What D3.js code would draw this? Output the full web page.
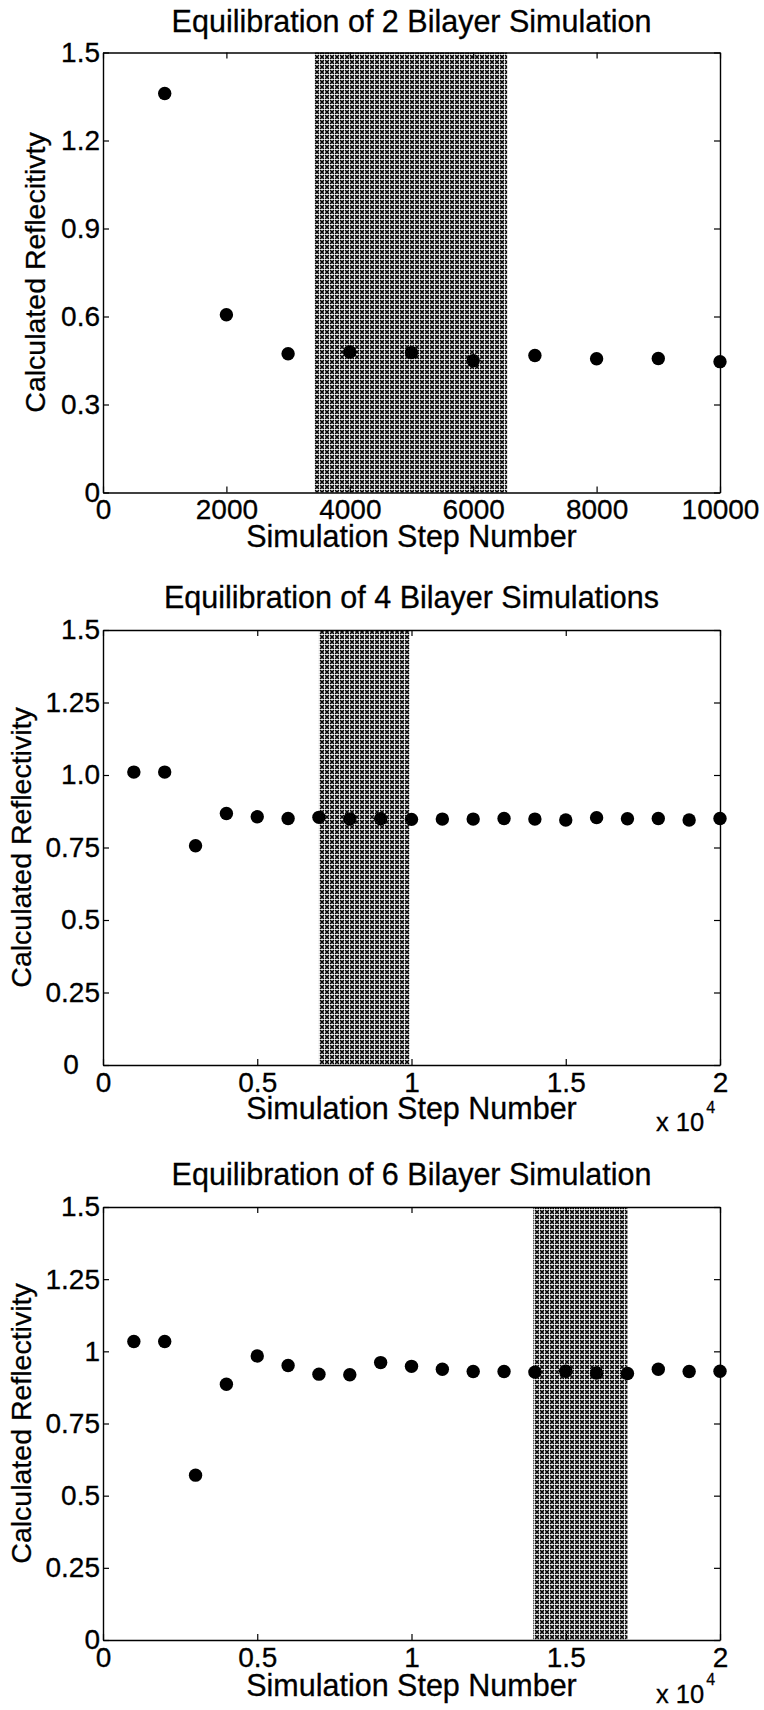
<!DOCTYPE html>
<html>
<head>
<meta charset="utf-8">
<script src="https://cdn.jsdelivr.net/npm/d3@7"></script>
<style>
  body { margin: 0; background: #fff; }
  text { font-family: "Liberation Sans", Arial, Helvetica, sans-serif; fill: #000; stroke: #000; stroke-width: 0.3px; }
</style>
</head>
<body>
<div id="plot"></div>
<script>
// ---- data ----
var titles = ["Equilibration of 2 Bilayer Simulation",
  "Equilibration of 4 Bilayer Simulations",
  "Equilibration of 6 Bilayer Simulation"];
var yTitles = ["Calculated Reflecitivty", "Calculated Reflectivity", "Calculated Reflectivity"];
var xTitle = "Simulation Step Number";

var steps1 = [1000, 2000, 3000, 4000, 5000, 6000, 7000, 8000, 9000, 10000];
var refl1 = [1.36, 0.606, 0.473, 0.479, 0.477, 0.449, 0.467, 0.456, 0.457, 0.446];

var steps2 = [1000, 2000, 3000, 4000, 5000, 6000, 7000, 8000, 9000, 10000,
  11000, 12000, 13000, 14000, 15000, 16000, 17000, 18000, 19000, 20000];
var refl2 = [1.01, 1.01, 0.756, 0.867, 0.856, 0.850, 0.854, 0.848, 0.849, 0.847,
  0.848, 0.848, 0.850, 0.848, 0.845, 0.853, 0.849, 0.850, 0.845, 0.850];

var steps3 = [1000, 2000, 3000, 4000, 5000, 6000, 7000, 8000, 9000, 10000,
  11000, 12000, 13000, 14000, 15000, 16000, 17000, 18000, 19000, 20000];
var refl3 = [1.034, 1.034, 0.571, 0.886, 0.984, 0.951, 0.921, 0.919, 0.961, 0.948,
  0.938, 0.930, 0.930, 0.928, 0.931, 0.925, 0.923, 0.938, 0.930, 0.931];

// equilibrated (shaded) window of each run
var shade1 = [3430, 6550];
var shade2 = [7000, 9950];
var shade3 = [13950, 17000];

var xTicks1 = [0, 2000, 4000, 6000, 8000, 10000];
var xTickLabels1 = ["0", "2000", "4000", "6000", "8000", "10000"];
var xTicks23 = [0, 5000, 10000, 15000, 20000];
var xTickLabels23 = ["0", "0.5", "1", "1.5", "2"];

var yTicks1 = [0, 0.3, 0.6, 0.9, 1.2, 1.5];
var yTickLabels1 = ["0", "0.3", "0.6", "0.9", "1.2", "1.5"];
var yTicks23 = [0, 0.25, 0.5, 0.75, 1, 1.25, 1.5];
var yTickLabels2 = ["0\u2007\u2009", "0.25", "0.5", "0.75", "1.0", "1.25", "1.5"];
var yTickLabels3 = ["0", "0.25", "0.5", "0.75", "1", "1.25", "1.5"];

// ---- page ----
var svgWidth = 764;
var svgHeight = 1710;
var left = 103;
var right = 720;

var svg = d3.select("#plot")
  .append("svg")
  .attr("width", svgWidth)
  .attr("height", svgHeight);

// crosshatch of little x's used for the shaded window
var pat = svg.append("defs").append("pattern")
  .attr("id", "hatch")
  .attr("patternUnits", "userSpaceOnUse")
  .attr("width", 5)
  .attr("height", 5);
pat.append("rect").attr("width", 5).attr("height", 5).attr("fill", "#f2f2f2");
pat.append("rect").attr("width", 4).attr("height", 4).attr("fill", "#8a8a8a");
pat.append("path")
  .attr("d", "M0,0L4,4M4,0L0,4")
  .attr("stroke", "#000")
  .attr("stroke-width", 1.1);

var panels = [
  { title: titles[0], yTitle: yTitles[0], steps: steps1, refl: refl1, shade: shade1,
    xMax: 10000, xTicks: xTicks1, xLabels: xTickLabels1, yTicks: yTicks1, yLabels: yTickLabels1,
    top: 52.5, bottom: 492.5, titleY: 32, xTitleY: 547, yTitleX: 45, expo: null },
  { title: titles[1], yTitle: yTitles[1], steps: steps2, refl: refl2, shade: shade2,
    xMax: 20000, xTicks: xTicks23, xLabels: xTickLabels23, yTicks: yTicks23, yLabels: yTickLabels2,
    top: 630, bottom: 1065, titleY: 608, xTitleY: 1119, yTitleX: 31, expo: 1131 },
  { title: titles[2], yTitle: yTitles[2], steps: steps3, refl: refl3, shade: shade3,
    xMax: 20000, xTicks: xTicks23, xLabels: xTickLabels23, yTicks: yTicks23, yLabels: yTickLabels3,
    top: 1207, bottom: 1640, titleY: 1185, xTitleY: 1696, yTitleX: 31, expo: 1703 }
];

function drawPanel(p) {
  var x = d3.scaleLinear().domain([0, p.xMax]).range([left, right]);
  var y = d3.scaleLinear().domain([0, 1.5]).range([p.bottom, p.top]);
  var g = svg.append("g");

  // shaded window
  g.append("rect")
    .attr("x", x(p.shade[0]))
    .attr("y", y(1.5))
    .attr("width", x(p.shade[1]) - x(p.shade[0]))
    .attr("height", y(0) - y(1.5))
    .attr("fill", "url(#hatch)");

  // axes, ticks pointing inward on all four sides
  var bottomAxis = d3.axisBottom(x).tickValues(p.xTicks)
    .tickFormat((d, i) => p.xLabels[i]).tickSizeInner(-6).tickSizeOuter(0).tickPadding(7);
  var topAxis = d3.axisTop(x).tickValues(p.xTicks)
    .tickFormat("").tickSizeInner(-6).tickSizeOuter(0);
  var leftAxis = d3.axisLeft(y).tickValues(p.yTicks)
    .tickFormat((d, i) => p.yLabels[i]).tickSizeInner(-6).tickSizeOuter(0).tickPadding(3);
  var rightAxis = d3.axisRight(y).tickValues(p.yTicks)
    .tickFormat("").tickSizeInner(-6).tickSizeOuter(0);

  var axes = [
    g.append("g").attr("transform", `translate(0, ${p.bottom})`).call(bottomAxis),
    g.append("g").attr("transform", `translate(0, ${p.top})`).call(topAxis),
    g.append("g").attr("transform", `translate(${left}, 0)`).call(leftAxis),
    g.append("g").attr("transform", `translate(${right}, 0)`).call(rightAxis)
  ];
  axes.forEach(function(a) {
    a.select(".domain").attr("stroke", "#000").attr("stroke-width", 1.4);
    a.selectAll(".tick line").attr("stroke", "#000").attr("stroke-width", 1.2);
    a.selectAll(".tick text")
      .style("font-family", "'Liberation Sans', Arial, sans-serif")
      .attr("font-size", 28)
      .attr("fill", "#000");
  });

  // points
  g.selectAll("circle")
    .data(p.steps)
    .enter()
    .append("circle")
    .attr("cx", d => x(d))
    .attr("cy", (d, i) => y(p.refl[i]))
    .attr("r", 6.7)
    .attr("fill", "#000");

  // titles
  g.append("text")
    .attr("x", (left + right) / 2)
    .attr("y", p.titleY)
    .attr("text-anchor", "middle")
    .attr("font-size", 30.5)
    .text(p.title);

  g.append("text")
    .attr("x", (left + right) / 2)
    .attr("y", p.xTitleY)
    .attr("text-anchor", "middle")
    .attr("font-size", 30.5)
    .text(xTitle);

  g.append("text")
    .attr("transform", "rotate(-90)")
    .attr("x", -(p.top + p.bottom) / 2)
    .attr("y", p.yTitleX)
    .attr("text-anchor", "middle")
    .attr("font-size", 28.5)
    .text(p.yTitle);

  // x 10^4 multiplier
  if (p.expo) {
    var ex = g.append("text")
      .attr("x", 656)
      .attr("y", p.expo)
      .attr("font-size", 25.5)
      .text("x 10");
    ex.append("tspan")
      .attr("dx", 2)
      .attr("dy", -18)
      .attr("font-size", 16)
      .text("4");
  }
}

panels.forEach(drawPanel);
</script>
</body>
</html>
